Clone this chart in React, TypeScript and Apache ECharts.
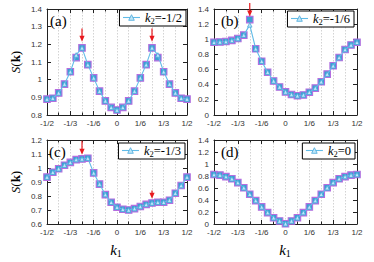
import React, { useEffect, useRef } from 'react';
import * as echarts from 'echarts';

// k1 in units of 1/24 (from -1/2 to 1/2)
const K1_24THS = [-12, -11, -10, -9, -8, -7, -6, -5, -4, -3, -2, -1, 0, 1, 2, 3, 4, 5, 6, 7, 8, 9, 10, 11, 12];
const X_TICK_LABELS: Record<string, string> = {
  '-12': '-1/2', '-8': '-1/3', '-4': '-1/6', '0': '0', '4': '1/6', '8': '1/3', '12': '1/2',
};
const PANEL_LABELS = ['(a)', '(b)', '(c)', '(d)'];
const K2_LABELS = ['-1/2', '-1/6', '-1/3', '0'];

const A_TRI = [0.89, 0.895, 0.925, 0.975, 1.045, 1.14, 1.18, 1.085, 1.01, 0.935, 0.88, 0.843, 0.828, 0.843, 0.88, 0.935, 1.01, 1.085, 1.18, 1.14, 1.045, 0.975, 0.925, 0.895, 0.89];
const A_SQ = [0.89, 0.895, 0.925, 0.975, 1.045, 1.125, 1.18, 1.085, 1.01, 0.935, 0.88, 0.843, 0.828, 0.843, 0.88, 0.935, 1.01, 1.085, 1.18, 1.125, 1.045, 0.975, 0.925, 0.895, 0.89];
const B_TRI = [0.96, 0.965, 0.97, 0.985, 1.01, 1.055, 1.19, 0.875, 0.71, 0.565, 0.45, 0.37, 0.305, 0.27, 0.255, 0.265, 0.3, 0.355, 0.44, 0.54, 0.65, 0.76, 0.865, 0.925, 0.96];
const B_SQ = [0.96, 0.965, 0.97, 0.985, 1.01, 1.055, 1.26, 0.875, 0.71, 0.565, 0.45, 0.37, 0.305, 0.27, 0.255, 0.265, 0.3, 0.355, 0.44, 0.54, 0.65, 0.76, 0.865, 0.925, 0.96];
const C_TRI = [0.935, 0.97, 0.995, 1.02, 1.04, 1.06, 1.065, 1.07, 0.965, 0.885, 0.81, 0.755, 0.72, 0.705, 0.7, 0.71, 0.725, 0.74, 0.75, 0.755, 0.755, 0.77, 0.82, 0.875, 0.935];
const C_SQ = [0.935, 0.97, 0.995, 1.02, 1.04, 1.06, 1.065, 1.07, 0.965, 0.885, 0.81, 0.755, 0.72, 0.705, 0.7, 0.71, 0.725, 0.74, 0.75, 0.755, 0.755, 0.77, 0.82, 0.875, 0.935];
const D_TRI = [0.825, 0.815, 0.79, 0.755, 0.69, 0.605, 0.495, 0.39, 0.285, 0.19, 0.105, 0.05, 0.005, 0.05, 0.105, 0.19, 0.285, 0.39, 0.495, 0.605, 0.69, 0.755, 0.79, 0.815, 0.825];
const D_SQ = [0.825, 0.815, 0.79, 0.755, 0.69, 0.605, 0.495, 0.39, 0.285, 0.19, 0.105, 0.05, 0.005, 0.05, 0.105, 0.19, 0.285, 0.39, 0.495, 0.605, 0.69, 0.755, 0.79, 0.815, 0.825];

// y axis ranges [min, max, interval]
const Y_RANGES = [[0.8, 1.4, 0.1], [0, 1.4, 0.2], [0.6, 1.2, 0.1], [0, 1.4, 0.2]];
// red arrows: [k1 (1/24 units), yStart, yEnd]
const ARROWS = [
  [[-6, 1.29, 1.215], [6, 1.29, 1.215]],
  [[-6, 1.48, 1.3]],
  [[-6, 1.195, 1.094], [6, 0.84, 0.781]],
  [],
];

const TRI = [A_TRI, B_TRI, C_TRI, D_TRI];
const SQ = [A_SQ, B_SQ, C_SQ, D_SQ];

const GRIDS = [
  { left: 47, top: 9, width: 140, height: 106 },
  { left: 214, top: 9, width: 143, height: 106 },
  { left: 47, top: 140, width: 140, height: 84 },
  { left: 214, top: 140, width: 143, height: 84 },
];
const LEGEND_POS = [
  { right: 188, top: 10 },
  { right: 20, top: 11 },
  { right: 189, top: 143 },
  { right: 19, top: 143 },
];

const SERIF = '"Liberation Serif", "DejaVu Serif", serif';
const SANS = '"Liberation Sans", Arial, sans-serif';
const AXIS_COLOR = '#222';
const ARROW_COLOR = '#e8191e';
const GRID_LINE = { show: true, lineStyle: { color: '#c8c8c8', type: [1.5, 1.5] as any, width: 0.8 } };

export default function App() {
  const ref = useRef<HTMLDivElement>(null);
  useEffect(() => {
    document.body.style.margin = '0';
    if (!ref.current) return;
    const chart = echarts.init(ref.current, null, { renderer: 'svg' });

    const xAxis: any[] = [];
    const yAxis: any[] = [];
    const series: any[] = [];
    const legend: any[] = [];

    GRIDS.forEach((_, i) => {
      const [ymin, ymax, yint] = Y_RANGES[i];
      const xBase = {
        type: 'value', gridIndex: i, min: -12, max: 12, interval: 4,
        axisLine: { show: true, onZero: false, lineStyle: { color: AXIS_COLOR, width: 1 } },
        axisTick: { show: true, inside: true, length: 4, lineStyle: { color: AXIS_COLOR } },
        minorTick: { show: true, splitNumber: 2, length: 2.5, lineStyle: { color: AXIS_COLOR } },
      };
      xAxis.push({
        ...xBase, position: 'bottom',
        splitLine: GRID_LINE, minorSplitLine: GRID_LINE,
        axisLabel: {
          show: true, fontSize: 8, color: '#333', fontFamily: SANS, margin: 4,
          formatter: (v: number) => X_TICK_LABELS[String(Math.round(v))] ?? '',
        },
      });
      xAxis.push({
        ...xBase, position: 'top',
        splitLine: { show: false }, axisLabel: { show: false },
      });
      const yBase = {
        type: 'value', gridIndex: i, min: ymin, max: ymax, interval: yint,
        axisLine: { show: true, onZero: false, lineStyle: { color: AXIS_COLOR, width: 1 } },
        axisTick: { show: true, inside: true, length: 4, lineStyle: { color: AXIS_COLOR } },
        splitLine: { show: false },
      };
      yAxis.push({
        ...yBase, position: 'left',
        axisLabel: { show: true, fontSize: 8, color: '#333', fontFamily: SANS, margin: 5 },
      });
      yAxis.push({ ...yBase, position: 'right', axisLabel: { show: false } });

      const name = 'k2=' + K2_LABELS[i];
      series.push({
        type: 'scatter', xAxisIndex: 2 * i, yAxisIndex: 2 * i,
        data: K1_24THS.map((n, j) => [n, SQ[i][j]]),
        symbol: 'rect', symbolSize: 6.5,
        itemStyle: { color: '#3c9fd2', borderColor: '#b46ee0', borderWidth: 1.1, opacity: 1 },
        silent: true, z: 2,
      });
      series.push({
        type: 'line', name, xAxisIndex: 2 * i, yAxisIndex: 2 * i,
        data: K1_24THS.map((n, j) => [n, TRI[i][j]]),
        symbol: 'triangle', symbolSize: 4.5, showAllSymbol: true,
        lineStyle: { color: '#62bce8', width: 1.1 },
        itemStyle: { color: '#bfe7f8', borderColor: '#4aa8dc', borderWidth: 0.8 },
        silent: true, z: 3,
      });
      legend.push({
        data: [name], ...LEGEND_POS[i], orient: 'horizontal', selectedMode: false,
        backgroundColor: '#fff', borderColor: '#000', borderWidth: 1, borderRadius: 0,
        padding: [1, 4, 1, 3], itemWidth: 17, itemHeight: 7, itemGap: 4,
        itemStyle: { borderWidth: 0.8 },
        lineStyle: { width: 1.1 },
        formatter: () => `{i|k}{s|2}{r|=${K2_LABELS[i]}}`,
        textStyle: {
          rich: {
            i: { fontFamily: SERIF, fontStyle: 'italic', fontSize: 12.5, lineHeight: 15, color: '#000' },
            s: { fontFamily: SERIF, fontSize: 8.5, lineHeight: 9, verticalAlign: 'bottom', color: '#000' },
            r: { fontFamily: SERIF, fontSize: 12.5, lineHeight: 15, color: '#000' },
          },
        },
      });
    });

    const graphic: any[] = [];
    const labelPos = [[50, 21], [221, 21], [49, 152], [221, 152]];
    PANEL_LABELS.forEach((t, i) => {
      graphic.push({
        type: 'text', id: 'pl' + i, x: labelPos[i][0], y: labelPos[i][1], z: 10,
        style: { text: t, fontFamily: SERIF, fontSize: 15, fill: '#000', align: 'left', verticalAlign: 'middle' },
      });
    });
    const skRich = {
      i: { fontFamily: SERIF, fontStyle: 'italic', fontSize: 13, fill: '#000' },
      n: { fontFamily: SERIF, fontSize: 13, fill: '#000' },
      b: { fontFamily: SERIF, fontWeight: 'bold', fontSize: 13, fill: '#000' },
    };
    [[15, 62], [15, 182]].forEach(([x, y], k) => {
      graphic.push({
        type: 'text', id: 'sk' + k, x, y, rotation: Math.PI / 2,
        style: { text: '{i|S}{n|(}{b|k}{n|)}', rich: skRich, align: 'center', verticalAlign: 'middle' },
      });
    });
    const kRich = {
      i: { fontFamily: SERIF, fontStyle: 'italic', fontSize: 15, lineHeight: 16, fill: '#000' },
      s: { fontFamily: SERIF, fontSize: 10, lineHeight: 10, verticalAlign: 'bottom', fill: '#000' },
    };
    [[116, 250], [285, 250]].forEach(([x, y], k) => {
      graphic.push({
        type: 'text', id: 'k1' + k, x, y,
        style: { text: '{i|k}{s|1}', rich: kRich, align: 'center', verticalAlign: 'middle' },
      });
    });

    chart.setOption({
      animation: false,
      grid: GRIDS.map((g) => ({ ...g, containLabel: false })),
      xAxis, yAxis, series, legend, graphic,
    });

    // red arrows, positioned through the axes' scales
    const arrowEls: any[] = [];
    ARROWS.forEach((list, i) => {
      list.forEach((a, k) => {
        const p0 = chart.convertToPixel({ gridIndex: i } as any, [a[0], a[1]]) as number[];
        const p1 = chart.convertToPixel({ gridIndex: i } as any, [a[0], a[2]]) as number[];
        const headLen = 6;
        const headHalf = 2.6;
        arrowEls.push({
          type: 'line', id: `ar${i}_${k}`, z: 20, silent: true,
          shape: { x1: p0[0], y1: p0[1], x2: p1[0], y2: p1[1] - headLen + 1 },
          style: { stroke: ARROW_COLOR, lineWidth: 1.2 },
        });
        arrowEls.push({
          type: 'polygon', id: `ah${i}_${k}`, z: 20, silent: true,
          shape: { points: [[p1[0] - headHalf, p1[1] - headLen], [p1[0] + headHalf, p1[1] - headLen], [p1[0], p1[1]]] },
          style: { fill: ARROW_COLOR },
        });
      });
    });
    chart.setOption({ graphic: arrowEls });

    return () => chart.dispose();
  }, []);
  return <div ref={ref} style={{ width: 374, height: 262 }} />;
}
